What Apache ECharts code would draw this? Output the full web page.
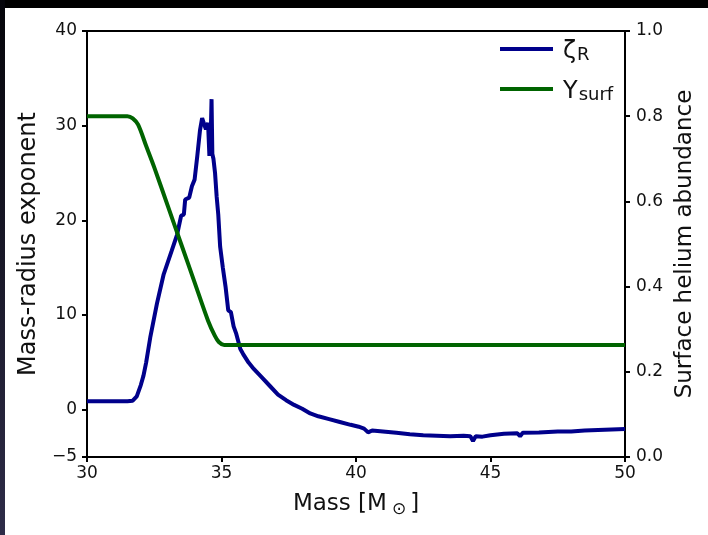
<!DOCTYPE html>
<html>
<head>
<meta charset="utf-8">
<script src="https://cdn.jsdelivr.net/npm/echarts@6/dist/echarts.min.js"></script>
<style>
  html, body { margin: 0; padding: 0; background: #fff; }
  #wrap { position: relative; width: 708px; height: 535px; overflow: hidden; }
  #main { position: absolute; left: 0; top: 0; width: 708px; height: 535px; }
  .frame-top { position: absolute; left: 0; top: 0; width: 708px; height: 8px; background: #000; }
  .frame-left { position: absolute; left: 0; top: 0; width: 5px; height: 535px;
    background: linear-gradient(#05050a, #2e2c48); }
</style>
</head>
<body>
<div id="wrap">
  <div id="main"></div>
  <div class="frame-top"></div>
  <div class="frame-left"></div>
</div>
<script>
// ζ_R (mass-radius exponent) vs mass
var massZeta = [30, 31, 31.5, 31.7, 31.85, 32.0, 32.1, 32.2, 32.35, 32.6, 32.85, 33.15, 33.35, 33.5, 33.6,
  33.65, 33.8, 33.9, 34.0, 34.1, 34.2, 34.28, 34.35, 34.42, 34.5, 34.55, 34.6, 34.63, 34.66, 34.7,
  34.76, 34.82, 34.88, 34.95, 35.05, 35.15, 35.25, 35.35, 35.45, 35.55, 35.7, 35.8, 36.0, 36.2, 36.5,
  36.8, 37.1, 37.4, 37.7, 38.0, 38.3, 38.6, 39.0, 39.4, 39.8, 40.1, 40.3, 40.45, 40.6, 41.0, 41.5,
  42.0, 42.5, 43.0, 43.5, 44.0, 44.25, 44.35, 44.45, 44.7, 45.0, 45.5, 46.0, 46.1, 46.2, 46.8, 47.5,
  48.0, 48.5, 49.0, 49.5, 50];
var zetaR = [0.9, 0.9, 0.9, 0.95, 1.4, 2.6, 3.6, 5.0, 7.6, 11.2, 14.3, 16.8, 18.5, 20.5, 20.6,
  22.2, 22.4, 23.6, 24.3, 26.8, 29.5, 30.8, 30.6, 29.6, 30.3, 26.8, 29.0, 32.8, 27.0, 26.5,
  25.0, 22.5, 20.6, 17.2, 15.0, 13.0, 10.5, 10.3, 8.8, 8.0, 6.4, 5.9, 5.0, 4.3, 3.4,
  2.5, 1.6, 1.0, 0.5, 0.1, -0.4, -0.7, -1.0, -1.3, -1.6, -1.8, -2.0, -2.4, -2.2, -2.3, -2.45,
  -2.6, -2.7, -2.75, -2.8, -2.75, -2.8, -3.3, -2.8, -2.85, -2.7, -2.55, -2.5, -2.8, -2.45, -2.4, -2.3,
  -2.3, -2.2, -2.15, -2.1, -2.05];

// Y_surf (surface helium abundance) vs mass
var massY = [30, 31, 31.5, 31.7, 31.9, 32.2, 32.5, 33.0, 33.5, 34.0, 34.5, 34.75, 34.9, 35.1, 35.5, 50];
var ySurf = [0.80, 0.80, 0.80, 0.795, 0.78, 0.73, 0.68, 0.59, 0.50, 0.41, 0.32, 0.285, 0.27, 0.263, 0.263, 0.263];

var leftTicks = [-5, 0, 10, 20, 30, 40];

function pairs(xs, ys) {
  return xs.map(function (x, i) { return [x, ys[i]]; });
}

var font = 'DejaVu Sans';
var myChart = echarts.init(document.getElementById('main'));
myChart.setOption({
  animation: false,
  textStyle: { fontFamily: font },
  grid: { left: 87, right: 83, top: 31, bottom: 78, show: true, borderColor: '#000', borderWidth: 2 },
  legend: {
    orient: 'vertical',
    left: 495,
    top: 33,
    itemGap: 14,
    itemWidth: 53,
    itemHeight: 4,
    icon: 'rect',
    data: ['zeta', 'ysurf'],
    formatter: function (name) {
      return name === 'zeta' ? '{m|ζ}{s|R}' : '{m|Y}{s|surf}';
    },
    textStyle: {
      rich: {
        m: { fontSize: 24, fontFamily: font, color: '#111', lineHeight: 30, verticalAlign: 'bottom', padding: [0, 0, 0, 5] },
        s: { fontSize: 18, fontFamily: font, color: '#111', lineHeight: 30, verticalAlign: 'bottom', padding: [8, 0, 0, 1] }
      }
    }
  },
  xAxis: {
    type: 'value',
    min: 30,
    max: 50,
    interval: 5,
    name: 'Mass [M{s|⊙}]',
    nameLocation: 'middle',
    nameGap: 34,
    nameTextStyle: {
      fontSize: 23, color: '#111', fontFamily: font,
      rich: { s: { fontSize: 17, color: '#111', fontFamily: font, padding: [10, 4, 0, 5] } }
    },
    axisLine: { show: true, onZero: false, lineStyle: { color: '#000', width: 2 } },
    axisTick: { show: true, length: 5, lineStyle: { color: '#000', width: 2 } },
    axisLabel: { fontSize: 17, color: '#111', margin: 8 },
    splitLine: { show: false }
  },
  yAxis: [{
    type: 'value',
    min: -5,
    max: 40,
    name: 'Mass-radius exponent',
    nameLocation: 'middle',
    nameRotate: 90,
    nameGap: 43,
    nameTextStyle: { fontSize: 24, color: '#111' },
    axisLine: { show: true, onZero: false, lineStyle: { color: '#000', width: 2 } },
    axisTick: { show: true, length: 5, customValues: leftTicks, lineStyle: { color: '#000', width: 2 } },
    axisLabel: {
      fontSize: 17, color: '#111', margin: 10, customValues: leftTicks,
      formatter: function (v) { return v < 0 ? '\u2212' + (-v) : String(v); }
    },
    splitLine: { show: false }
  }, {
    type: 'value',
    min: 0,
    max: 1,
    interval: 0.2,
    position: 'right',
    name: 'Surface helium abundance',
    nameLocation: 'middle',
    nameRotate: 90,
    nameGap: 46,
    nameTextStyle: { fontSize: 23, color: '#111' },
    axisLine: { show: true, onZero: false, lineStyle: { color: '#000', width: 2 } },
    axisTick: { show: true, length: 5, lineStyle: { color: '#000', width: 2 } },
    axisLabel: {
      fontSize: 17, color: '#111', margin: 11,
      formatter: function (v) { return v.toFixed(1); }
    },
    splitLine: { show: false }
  }],
  series: [{
    name: 'zeta',
    type: 'line',
    yAxisIndex: 0,
    showSymbol: false,
    smooth: false,
    color: '#00008b',
    lineStyle: { color: '#00008b', width: 4 },
    data: pairs(massZeta, zetaR)
  }, {
    name: 'ysurf',
    type: 'line',
    yAxisIndex: 1,
    showSymbol: false,
    smooth: 0.3,
    color: '#006400',
    lineStyle: { color: '#006400', width: 4 },
    data: pairs(massY, ySurf)
  }]
});
</script>
</body>
</html>
